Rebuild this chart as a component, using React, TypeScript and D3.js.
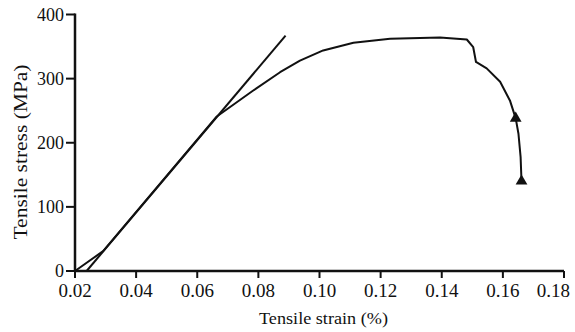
import React from "react";
import * as d3 from "d3";

const curveStrain = [0.020, 0.0292, 0.0664, 0.0782, 0.0871, 0.0936, 0.1012, 0.1111, 0.1231, 0.1394, 0.1482, 0.1503, 0.1512, 0.1547, 0.1591, 0.1623, 0.1642, 0.1651, 0.1658, 0.1661];
const curveStress = [0, 31, 241, 281, 310, 328, 344, 356, 362, 364, 361, 349, 326, 316, 295, 266, 238, 214, 178, 140];
const tangentStrain = [0.0238, 0.0889];
const tangentStress = [0, 367];
const markerStrain = [0.1642, 0.1661];
const markerStress = [238, 140];
const xTicks = [0.02, 0.04, 0.06, 0.08, 0.10, 0.12, 0.14, 0.16, 0.18];
const yTicks = [0, 100, 200, 300, 400];

const W = 575, H = 332;
const x = d3.scaleLinear().domain([0.02, 0.18]).range([75, 564]);
const y = d3.scaleLinear().domain([0, 400]).range([271, 14.5]);

export default function App() {
  const line = d3.line<[number, number]>().x(d => x(d[0])).y(d => y(d[1]));
  const curve = line(curveStrain.map((s, i) => [s, curveStress[i]] as [number, number]));
  const tangent = line(tangentStrain.map((s, i) => [s, tangentStress[i]] as [number, number]));
  const tri = d3.symbol().type(d3.symbolTriangle).size(60)();
  const font = "'Liberation Serif', 'Times New Roman', serif";
  const ink = "#111";
  return (
    <svg width={W} height={H} style={{ position: "absolute", left: 0, top: 0, background: "#fff" }} fontFamily={font}>
      <rect width={W} height={H} fill="#fff" />
      <path d={tangent!} fill="none" stroke={ink} strokeWidth={2} />
      <path d={curve!} fill="none" stroke={ink} strokeWidth={2} strokeLinejoin="round" />
      {markerStrain.map((s, i) => (
        <path key={i} d={tri!} transform={`translate(${x(s)},${y(markerStress[i])})`} fill={ink} />
      ))}
      <line x1={x(0.02)} x2={x(0.18)} y1={y(0)} y2={y(0)} stroke={ink} strokeWidth={2.5} />
      <line x1={x(0.02)} x2={x(0.02)} y1={y(0) + 1} y2={y(400) - 1} stroke={ink} strokeWidth={2.5} />
      {xTicks.map((t, i) => {
        const last = i === xTicks.length - 1;
        return (
          <g key={t} transform={`translate(${x(t)},0)`}>
            <line y1={y(0)} y2={y(0) + 7} stroke={ink} strokeWidth={2} />
            <text x={last ? 6 : 0} y={297} textAnchor={last ? "end" : "middle"} fontSize={19} fill={ink}>{t.toFixed(2)}</text>
          </g>
        );
      })}
      {yTicks.map(t => (
        <g key={t} transform={`translate(0,${y(t)})`}>
          <line x1={x(0.02) - 9} x2={x(0.02)} stroke={ink} strokeWidth={2} />
          <text x={64} dy="0.35em" textAnchor="end" fontSize={18} fill={ink}>{t}</text>
        </g>
      ))}
      <text x={323.5} y={324} textAnchor="middle" fontSize={17} fill={ink} textLength={129} lengthAdjust="spacingAndGlyphs">Tensile strain (%)</text>
      <text transform={`translate(27,152) rotate(-90)`} textAnchor="middle" fontSize={18} fill={ink} textLength={175} lengthAdjust="spacingAndGlyphs">Tensile stress (MPa)</text>
    </svg>
  );
}
